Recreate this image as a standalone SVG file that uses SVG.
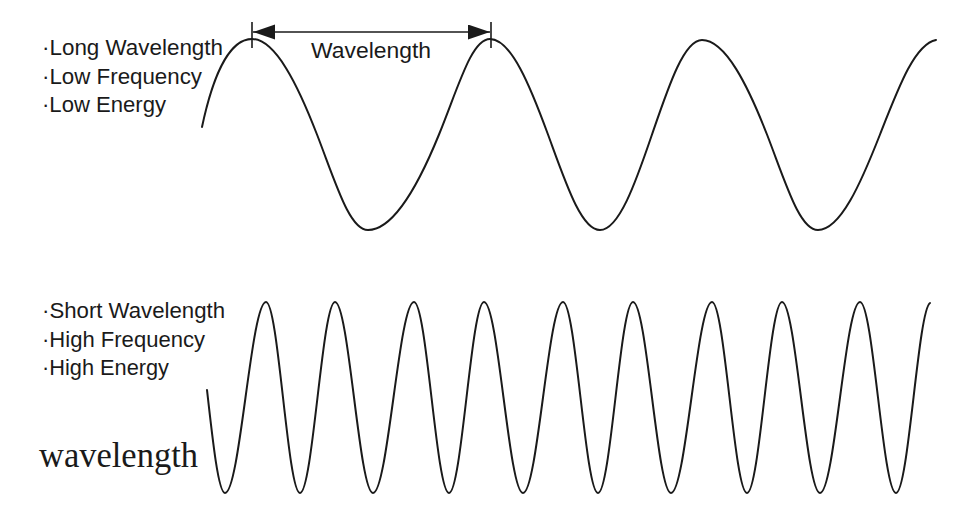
<svg xmlns="http://www.w3.org/2000/svg" width="971" height="523" viewBox="0 0 971 523">
<defs>
<style>
.wave{fill:none;stroke:#1a1a1a;stroke-width:2;stroke-linecap:round;stroke-linejoin:round}
.lbl{font-family:"Liberation Sans",Arial,sans-serif;font-size:22px;fill:#1a1a1a}
.serif{font-family:"Liberation Serif","Times New Roman",serif;font-size:35px;fill:#1a1a1a}
.dim{stroke:#1a1a1a;stroke-width:1.6;fill:none}
</style>
<marker id="ah" markerUnits="userSpaceOnUse" markerWidth="23" markerHeight="16" refX="22" refY="7.5" orient="auto-start-reverse" viewBox="0 0 23 16">
<path d="M0,0 L22,7.5 L0,15 Z" fill="#1a1a1a"/>
</marker>
</defs>
<rect width="971" height="523" fill="#ffffff"/>

<g id="low-labels">
<text class="lbl" x="42" y="55" textLength="181" lengthAdjust="spacingAndGlyphs">·Long Wavelength</text>
<text class="lbl" x="42" y="83.5" textLength="160" lengthAdjust="spacingAndGlyphs">·Low Frequency</text>
<text class="lbl" x="42" y="112" textLength="124" lengthAdjust="spacingAndGlyphs">·Low Energy</text>
</g>

<g id="low-wave">
<path class="wave" d="M202,127 C212,80 228,39 252,39 C275.5,39 298.1,85.6 317,134.5 C335.9,183.4 349.5,230 368,230 C393.7,230 419.1,183.4 439,134.5 C458.9,85.6 471.5,39 490,39 C511,39 530.1,85.6 548,134.5 C565.9,183.4 581.2,230 600,230 C618.8,230 635.4,183.4 652,134.5 C668.6,86.1 683.9,40 702,40 C725.5,40 748.1,86.1 767,134.5 C785.9,183.4 799.5,230 818,230 C840.4,230 860.8,183.4 880,134.5 C899.2,85.6 915,44 936,40"/>
</g>

<g id="connectors">
<line class="dim" x1="252" y1="22" x2="252" y2="48"/>
<line class="dim" x1="491" y1="22" x2="491" y2="48"/>
<line class="dim" x1="253" y1="32" x2="490" y2="32" marker-start="url(#ah)" marker-end="url(#ah)"/>
</g>

<g id="wavelength-label">
<text class="lbl" x="311" y="58" textLength="120" lengthAdjust="spacingAndGlyphs">Wavelength</text>
</g>

<g id="high-labels">
<text class="lbl" x="42" y="318" textLength="183" lengthAdjust="spacingAndGlyphs">·Short Wavelength</text>
<text class="lbl" x="42" y="346.5" textLength="163" lengthAdjust="spacingAndGlyphs">·High Frequency</text>
<text class="lbl" x="42" y="374.5" textLength="127" lengthAdjust="spacingAndGlyphs">·High Energy</text>
</g>

<g id="serif-label">
<text class="serif" x="39" y="467" textLength="159" lengthAdjust="spacingAndGlyphs">wavelength</text>
</g>

<g id="high-wave">
<path class="wave" d="M207,390 C212.9,442.8 218.5,493 225,493 C239.9,493 251.1,302 266,302 C278.4,302 287.6,493 300,493 C312.7,493 322.3,302 335,302 C348.8,302 359.2,493 373,493 C387.9,493 399.1,302 414,302 C426.7,302 436.3,493 449,493 C461.7,493 471.3,302 484,302 C498.2,302 508.8,493 523,493 C537.6,493 548.4,302 563,302 C575.7,302 585.3,493 598,493 C610.7,493 620.3,302 633,302 C646.8,302 657.2,493 671,493 C685.9,493 697.1,302 712,302 C724.7,302 734.3,493 747,493 C759.7,493 769.3,302 782,302 C795.8,302 806.2,493 820,493 C834.6,493 845.4,302 860,302 C873.1,302 882.9,493 896,493 C908.4,493 918,310 930,303"/>
</g>
</svg>
